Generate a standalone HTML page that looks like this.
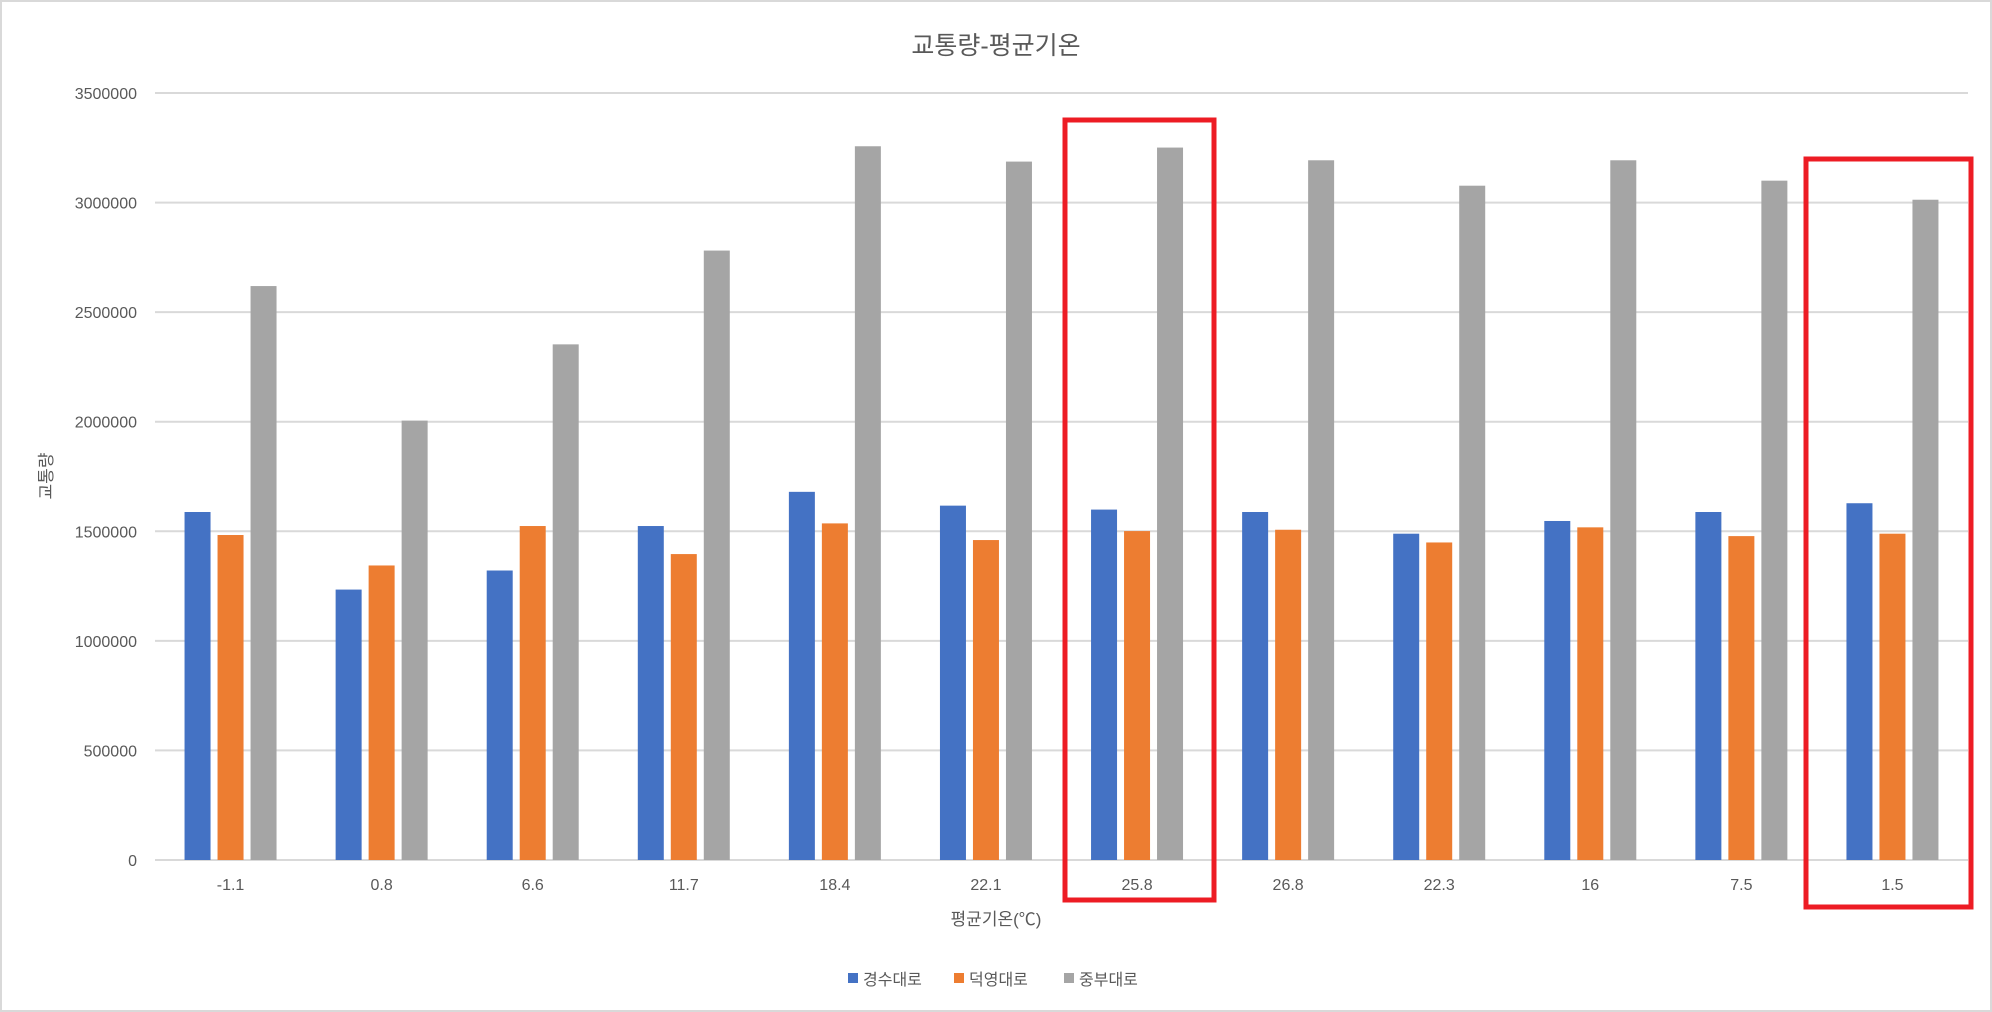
<!DOCTYPE html>
<html><head><meta charset="utf-8"><style>
html,body{margin:0;padding:0;background:#fff;}
svg{display:block;font-family:"Liberation Sans","Noto Sans CJK KR",sans-serif;}
</style></head><body>
<svg id="chart" width="1992" height="1012" viewBox="0 0 1992 1012">
<rect x="1" y="1" width="1990" height="1010" fill="#fff" stroke="#d9d9d9" stroke-width="2"/>
<text x="996" y="54" text-anchor="middle" font-size="25" fill="#595959">교통량-평균기온</text>
<g id="grid"></g><g id="bars"></g><g id="labels"></g>
<text x="996" y="925" text-anchor="middle" font-size="17" fill="#595959">평균기온(℃)</text>
<text transform="translate(52,476) rotate(-90)" text-anchor="middle" font-size="17" fill="#595959">교통량</text>
<g id="legend"></g>
<rect x="1065" y="120" width="149" height="780" fill="none" stroke="#ed1c24" stroke-width="5"/>
<rect x="1806" y="159" width="165" height="748" fill="none" stroke="#ed1c24" stroke-width="5"/>
</svg>
<script>
const categories=["-1.1","0.8","6.6","11.7","18.4","22.1","25.8","26.8","22.3","16","7.5","1.5"];
const seriesNames=["경수대로","덕영대로","중부대로"];
const gyeongsu=[1588000,1234000,1321000,1524000,1680000,1617000,1599000,1588000,1489000,1547000,1588000,1628000];
const deokyeong=[1483000,1344000,1524000,1396000,1536000,1460000,1501000,1507000,1449000,1518000,1478000,1489000];
const jungbu=[2619000,2005000,2353000,2781000,3257000,3187000,3251000,3193000,3077000,3193000,3100000,3013000];
const yTicks=[0,500000,1000000,1500000,2000000,2500000,3000000,3500000];
const colors=["#4472c4","#ed7d31","#a5a5a5"];
const NS="http://www.w3.org/2000/svg";
const L=155,R=1968,T=93,B=860,yMax=3500000;
const y=v=>B-(v/yMax)*(B-T);
const step=(R-L)/categories.length;
const x=i=>L+step*(i+0.5);
function mk(tag,attrs,parent,txt){const e=document.createElementNS(NS,tag);for(const k in attrs)e.setAttribute(k,attrs[k]);if(txt!==undefined)e.textContent=txt;parent.appendChild(e);return e;}
const grid=document.getElementById('grid'),bars=document.getElementById('bars'),labels=document.getElementById('labels'),legend=document.getElementById('legend');
yTicks.forEach(t=>{
  const ln=mk('line',{x1:L,x2:R,y1:y(t),y2:y(t),stroke:'#d9d9d9','stroke-width':2},grid);
  
  
  const tx=mk('text',{x:137,y:y(t)+6,'text-anchor':'end','font-size':16,fill:'#595959'},labels,String(t));
  
  
});
const series=[gyeongsu,deokyeong,jungbu];
const bw=26,gap=33;
categories.forEach((c,i)=>{
  series.forEach((s,j)=>{
    const bx=x(i)+(j-1)*gap-bw/2;
    const r=mk('rect',{x:bx,y:y(s[i]),width:bw,height:B-y(s[i]),fill:colors[j]},bars);
    
    
  });
  const tx=mk('text',{x:x(i),y:890,'text-anchor':'middle','font-size':16,fill:'#595959'},labels,c);
  
  
});
const lx=[848,954,1064];
seriesNames.forEach((n,j)=>{
  const sw=mk('rect',{x:lx[j],y:973,width:10,height:10,fill:colors[j]},legend);
  
  
  const tx=mk('text',{x:lx[j]+15,y:985,'font-size':16,fill:'#595959'},legend,n);
  
  
});
</script>
</body></html>
